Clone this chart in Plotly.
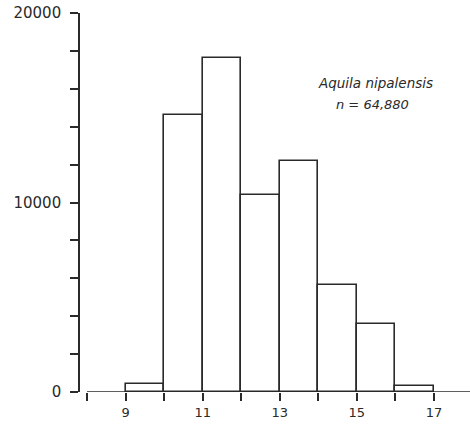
import plotly.graph_objects as go

# Size-class histogram: counts per unit bin
bin_left = [9, 10, 11, 12, 13, 14, 15, 16]
counts = [400, 14600, 17650, 10400, 12200, 5650, 3600, 330]

x_ticks = [8, 9, 10, 11, 12, 13, 14, 15, 16, 17]
x_labels = ["", "9", "", "11", "", "13", "", "15", "", "17"]
y_ticks = [0, 2000, 4000, 6000, 8000, 10000, 12000, 14000, 16000, 18000, 20000]
y_labels = ["0", "", "", "", "", "10000", "", "", "", "", "20000"]

species = "Aquila nipalensis"
n_label = "n = 64,880"

ink = "#2a2a2a"
centers = [b + 0.5 for b in bin_left]

fig = go.Figure()
fig.add_trace(go.Bar(
    x=centers, y=counts, width=1.0,
    marker=dict(color="white", line=dict(color=ink, width=1.6)),
    showlegend=False, hoverinfo="skip",
))

x_lo, x_hi = 7.818, 17.935
# baseline drawn from the first tick to the right edge
fig.add_shape(type="line", xref="x", yref="y", x0=8, x1=x_hi, y0=0, y1=0,
              line=dict(color=ink, width=1.6), layer="above")

fig.add_annotation(x=13.93, y=16300, xref="x", yref="y", xanchor="left",
                   yanchor="middle", showarrow=False,
                   text="<i>" + species + "</i>",
                   font=dict(family="DejaVu Sans", size=13.5, color=ink))
fig.add_annotation(x=14.4, y=15180, xref="x", yref="y", xanchor="left",
                   yanchor="middle", showarrow=False,
                   text="<i>" + n_label + "</i>",
                   font=dict(family="DejaVu Sans", size=13, color=ink))

fig.update_layout(
    width=470, height=427,
    margin=dict(l=80, r=0, t=13, b=35),
    paper_bgcolor="white", plot_bgcolor="white",
    bargap=0,
    xaxis=dict(range=[x_lo, x_hi], showgrid=False, zeroline=False,
               showline=False, tickmode="array", tickvals=x_ticks,
               ticktext=x_labels, ticks="outside", ticklen=8, tickwidth=1.6,
               tickcolor=ink, tickfont=dict(family="DejaVu Sans", size=13, color=ink)),
    yaxis=dict(range=[0, 20000], showgrid=False, zeroline=False,
               showline=True, linecolor=ink, linewidth=1.6,
               tickmode="array", tickvals=y_ticks, ticktext=y_labels,
               ticks="outside", ticklen=8, tickwidth=1.6, tickcolor=ink,
               ticklabelstandoff=6,
               tickfont=dict(family="DejaVu Sans", size=15, color=ink)),
)

fig.write_html("out.html")
